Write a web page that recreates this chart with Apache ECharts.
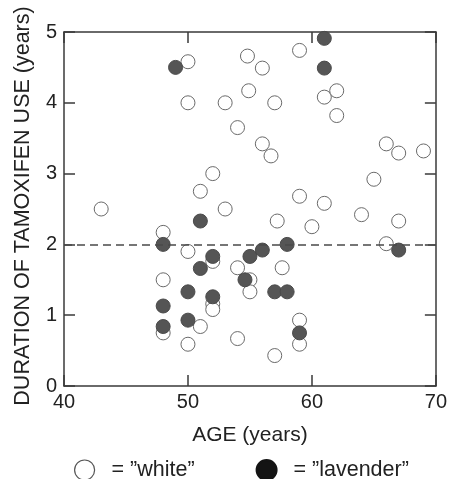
<!DOCTYPE html>
<html>
<head>
<meta charset="utf-8">
<script src="https://cdn.jsdelivr.net/npm/echarts@6/dist/echarts.min.js"></script>
<style>html,body{margin:0;padding:0;background:#fff}#c{width:450px;height:479px}</style>
</head>
<body>
<div id="c"></div>
<script>
const xTicks = [40, 50, 60, 70];
const yTicks = [0, 1, 2, 3, 4, 5];
const thresholdYears = 2;

const whiteAge = [43, 48, 48, 48, 50, 50, 50, 50, 51, 51, 52, 52, 52, 52, 53, 53, 54, 54, 54, 54.8, 54.9, 55, 55, 56, 56, 56.7, 57, 57.2, 57.6, 57, 59, 59, 59, 59, 60, 61, 61, 62, 62, 64, 65, 66, 66, 67, 67, 69];
const whiteDur = [2.5, 2.17, 1.5, 0.75, 4.58, 4.0, 1.9, 0.59, 2.75, 0.84, 3.0, 1.76, 1.16, 1.08, 4.0, 2.5, 3.65, 1.67, 0.67, 4.66, 4.17, 1.5, 1.33, 4.49, 3.42, 3.25, 4.0, 2.33, 1.67, 0.43, 4.74, 2.68, 0.93, 0.59, 2.25, 4.08, 2.58, 4.17, 3.82, 2.42, 2.92, 3.42, 2.01, 3.29, 2.33, 3.32];

const lavenderAge = [49, 61, 61, 51, 48, 52, 51, 50, 48, 52, 50, 48, 54.6, 55, 56, 58, 67, 57, 58, 59];
const lavenderDur = [4.5, 4.91, 4.49, 2.33, 2.0, 1.83, 1.66, 1.33, 1.13, 1.26, 0.93, 0.84, 1.5, 1.83, 1.92, 2.0, 1.92, 1.33, 1.33, 0.75];

const whiteData = whiteAge.map((a, i) => [a, whiteDur[i]]);
const lavenderData = lavenderAge.map((a, i) => [a, lavenderDur[i]]);

const axisColor = '#3a3a3a';
const textColor = '#222';
const fontFamily = 'Liberation Sans, Arial, sans-serif';

const chart = echarts.init(document.getElementById('c'), null, {renderer: 'canvas'});
const common = {
  axisLine: {show: true, onZero: false, lineStyle: {color: axisColor, width: 1.5}},
  axisTick: {show: true, inside: true, length: 11, lineStyle: {color: axisColor, width: 1.5}},
  splitLine: {show: false}
};
chart.setOption({
  animation: false,
  backgroundColor: '#fff',
  grid: {left: 64, right: 12, top: 32, bottom: 93, containLabel: false},
  xAxis: [
    Object.assign({
      type: 'value', min: xTicks[0], max: xTicks[xTicks.length - 1], interval: 10,
      name: 'AGE (years)', nameLocation: 'middle', nameGap: 39,
      nameTextStyle: {fontSize: 21, color: textColor, fontFamily},
      axisLabel: {fontSize: 20, color: textColor, fontFamily, margin: 6}
    }, common),
    Object.assign({
      type: 'value', position: 'top', min: xTicks[0], max: xTicks[xTicks.length - 1], interval: 10,
      axisLabel: {show: false}
    }, common)
  ],
  yAxis: [
    Object.assign({
      type: 'value', min: yTicks[0], max: yTicks[yTicks.length - 1], interval: 1,
      name: 'DURATION OF TAMOXIFEN USE (years)', nameLocation: 'middle', nameGap: 30,
      nameTextStyle: {fontSize: 21.5, color: textColor, fontFamily, padding: [0, 0, 0, 6]},
      axisLabel: {fontSize: 20, color: textColor, fontFamily, margin: 7}
    }, common),
    Object.assign({
      type: 'value', position: 'right', min: yTicks[0], max: yTicks[yTicks.length - 1], interval: 1,
      axisLabel: {show: false}
    }, common)
  ],
  legend: {
    left: 74, top: 459, padding: 0, itemWidth: 20, itemHeight: 20, itemGap: 61,
    icon: 'circle',
    textStyle: {fontSize: 21.5, color: textColor, fontFamily},
    formatter: name => '  = \u201D' + name + '\u201D',
    data: [
      {name: 'white', itemStyle: {color: '#fff', borderColor: '#555', borderWidth: 1.2}},
      {name: 'lavender', itemStyle: {color: '#141414', borderColor: '#141414'}}
    ]
  },
  series: [
    {
      name: 'white', type: 'scatter', symbol: 'circle', symbolSize: 14,
      itemStyle: {color: '#fff', borderColor: '#6a6a6a', borderWidth: 1, opacity: 1},
      data: whiteData,
      markLine: {
        silent: true, symbol: 'none', label: {show: false},
        lineStyle: {color: '#4a4a4a', type: [8, 5], width: 1.5},
        data: [{yAxis: thresholdYears}]
      }
    },
    {
      name: 'lavender', type: 'scatter', symbol: 'circle', symbolSize: 14,
      itemStyle: {color: '#555', borderColor: '#4a4a4a', borderWidth: 1, opacity: 1},
      data: lavenderData
    }
  ]
});
</script>
</body>
</html>
